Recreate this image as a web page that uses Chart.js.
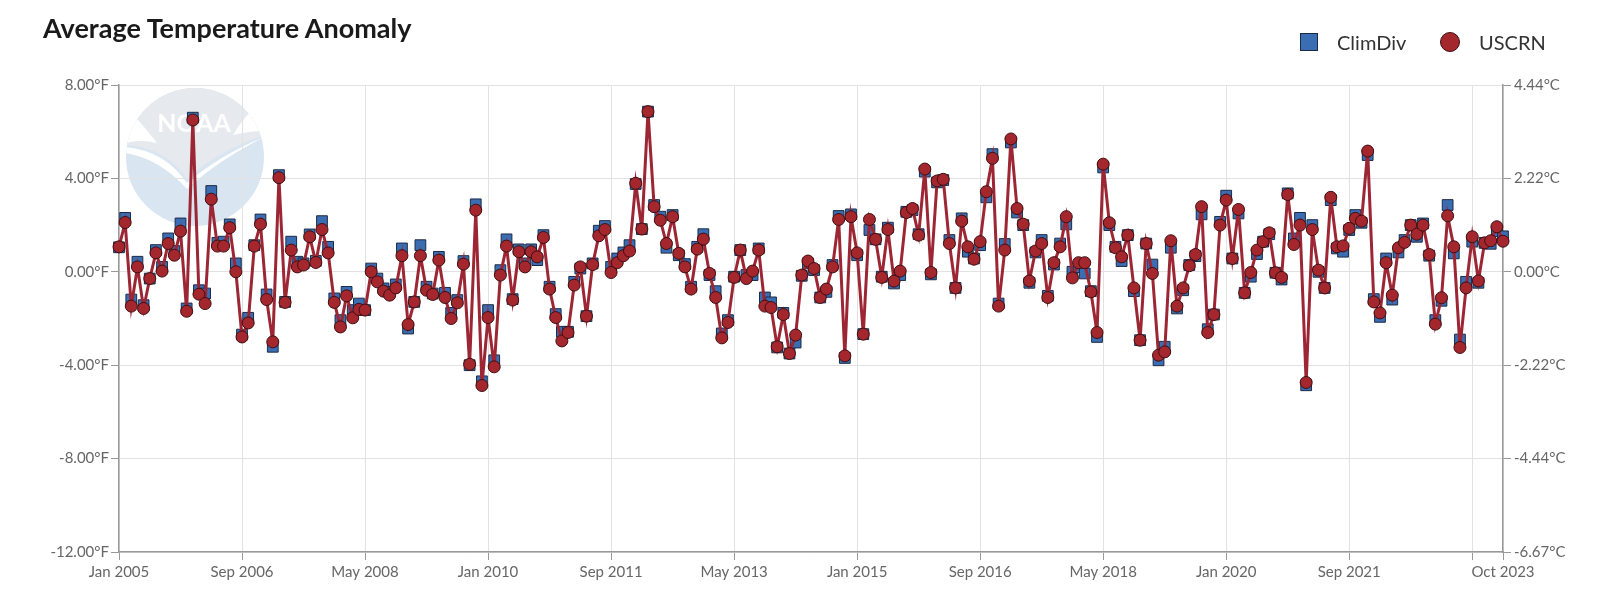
<!DOCTYPE html>
<html>
<head>
<meta charset="utf-8">
<script src="https://cdn.jsdelivr.net/npm/chart.js@4.4.0/dist/chart.umd.min.js"></script>
<style>
  body { margin: 0; background: #fff; }
  #wrap { position: relative; width: 1600px; height: 592px; overflow: hidden; }
  #title { position: absolute; left: 43px; top: 11px; font: bold 27px Lato, sans-serif; color: #1a1a1a; }
  #legend { position: absolute; top: 29px; left: 1300px; font: 20px Lato, sans-serif; color: #333; }
  .item { position: absolute; top: 0; white-space: nowrap; line-height: 26px; }
  .sq { position: absolute; top: 4px; width: 16px; height: 16px; background: #3b6db3; border: 1px solid #1c2b45; }
  .dot { position: absolute; top: 3px; width: 18px; height: 18px; border-radius: 50%; background: #a5272e; border: 1px solid #3d0e12; }
</style>
</head>
<body>
<div id="wrap">
  <canvas id="tempChart" width="1600" height="592"></canvas>
  <div id="title">Average Temperature Anomaly</div>
  <div id="legend">
    <div class="item" style="left:0"><span class="sq" style="left:0"></span><span style="margin-left:37px">ClimDiv</span></div>
    <div class="item" style="left:140px"><span class="dot" style="left:0"></span><span style="margin-left:39px">USCRN</span></div>
  </div>
</div>
<script>
// monthly anomalies, Jan 2005 .. Oct 2023 (deg F)
const monthNames = ['Jan','Feb','Mar','Apr','May','Jun','Jul','Aug','Sep','Oct','Nov','Dec'];
const startYear = 2005;
const monthCount = 226;
const categories = [];
for (let i = 0; i < monthCount; i++) {
    categories.push(monthNames[i % 12] + ' ' + (startYear + Math.floor(i / 12)));
}

const tickLabels = ['Jan 2005','Sep 2006','May 2008','Jan 2010','Sep 2011','May 2013',
    'Jan 2015','Sep 2016','May 2018','Jan 2020','Sep 2021','Oct 2023'];
const gridMonths = tickLabels.concat(['May 2023']);

const yTicksF = [-12, -8, -4, 0, 4, 8];

const uscrn = [
    1.07, 2.11, -1.47, 0.21, -1.57, -0.29, 0.81, 0.03, 1.21, 0.71, 1.74, -1.69,
    6.5, -0.96, -1.36, 3.11, 1.1, 1.1, 1.89, 0.0, -2.79, -2.19, 1.1, 2.04,
    -1.19, -3.0, 4.03, -1.31, 0.93, 0.21, 0.29, 1.5, 0.4, 1.81, 0.81, -1.31,
    -2.36, -1.03, -1.97, -1.61, -1.64, 0.0, -0.43, -0.83, -1.0, -0.69, 0.69, -2.26,
    -1.29, 0.69, -0.79, -0.97, 0.5, -1.1, -2.0, -1.33, 0.33, -3.96, 2.64, -4.87,
    -1.96, -4.07, -0.14, 1.1, -1.21, 0.86, 0.21, 0.86, 0.64, 1.47, -0.74, -1.96,
    -2.96, -2.6, -0.57, 0.21, -1.9, 0.31, 1.54, 1.81, -0.03, 0.39, 0.69, 0.89,
    3.79, 1.83, 6.86, 2.79, 2.21, 1.21, 2.36, 0.79, 0.21, -0.74, 0.97, 1.4,
    -0.07, -1.1, -2.83, -2.17, -0.24, 0.93, -0.29, 0.03, 0.93, -1.47, -1.53, -3.21,
    -1.83, -3.5, -2.71, -0.14, 0.46, 0.14, -1.1, -0.74, 0.21, 2.24, -3.6, 2.36,
    0.81, -2.67, 2.24, 1.39, -0.24, 1.81, -0.4, 0.03, 2.54, 2.71, 1.57, 4.4,
    -0.03, 3.89, 3.96, 1.21, -0.69, 2.17, 1.07, 0.54, 1.29, 3.43, 4.86, -1.47,
    0.93, 5.69, 2.71, 2.04, -0.39, 0.89, 1.21, -1.1, 0.39, 1.07, 2.36, -0.26,
    0.39, 0.39, -0.86, -2.6, 4.61, 2.1, 1.03, 0.64, 1.57, -0.69, -2.93, 1.21,
    -0.07, -3.57, -3.43, 1.33, -1.47, -0.69, 0.26, 0.74, 2.79, -2.6, -1.83, 2.0,
    3.07, 0.57, 2.67, -0.9, -0.03, 0.93, 1.29, 1.67, -0.04, -0.24, 3.31, 1.17,
    2.0, -4.74, 1.81, 0.07, -0.69, 3.19, 1.07, 1.11, 1.86, 2.29, 2.17, 5.17,
    -1.29, -1.76, 0.39, -1.0, 1.03, 1.26, 2.0, 1.61, 2.0, 0.74, -2.24, -1.11,
    2.4, 1.07, -3.24, -0.69, 1.5, -0.39, 1.24, 1.33, 1.93, 1.31
];

const climdiv = [
    1.05, 2.31, -1.19, 0.43, -1.43, -0.29, 0.93, 0.21, 1.43, 0.89, 2.07, -1.57,
    6.6, -0.79, -0.93, 3.46, 1.24, 1.29, 2.03, 0.36, -2.69, -1.97, 1.14, 2.24,
    -0.97, -3.21, 4.14, -1.29, 1.29, 0.43, 0.36, 1.6, 0.47, 2.17, 1.07, -1.14,
    -2.07, -0.86, -1.64, -1.36, -1.64, 0.14, -0.29, -0.71, -0.86, -0.54, 1.0, -2.43,
    -1.29, 1.14, -0.64, -0.93, 0.64, -0.9, -1.76, -1.21, 0.46, -4.0, 2.89, -4.69,
    -1.64, -3.79, 0.07, 1.39, -1.17, 0.96, 0.36, 0.96, 0.5, 1.57, -0.64, -1.81,
    -2.57, -2.57, -0.43, 0.14, -1.9, 0.36, 1.76, 1.96, 0.21, 0.57, 0.83, 1.14,
    3.76, 1.83, 6.86, 2.86, 2.36, 1.03, 2.43, 0.71, 0.33, -0.64, 1.07, 1.61,
    -0.14, -0.83, -2.64, -2.07, -0.21, 0.93, -0.14, -0.14, 1.0, -1.1, -1.31, -3.24,
    -1.76, -3.5, -3.03, -0.17, 0.36, 0.07, -1.1, -0.86, 0.29, 2.39, -3.69, 2.46,
    0.71, -2.67, 1.79, 1.39, -0.21, 1.89, -0.5, -0.14, 2.57, 2.64, 1.61, 4.29,
    -0.11, 3.83, 3.93, 1.36, -0.69, 2.29, 0.86, 0.57, 1.14, 3.19, 5.04, -1.36,
    1.19, 5.54, 2.54, 2.0, -0.47, 0.83, 1.36, -1.03, 0.31, 1.21, 2.03, 0.0,
    0.2, -0.07, -0.83, -2.79, 4.47, 2.0, 1.07, 0.46, 1.57, -0.83, -2.93, 1.21,
    0.31, -3.79, -3.21, 1.03, -1.57, -0.79, 0.29, 0.67, 2.46, -2.46, -1.83, 2.14,
    3.26, 0.57, 2.5, -0.9, -0.21, 0.76, 1.29, 1.61, -0.04, -0.33, 3.36, 1.43,
    2.31, -4.86, 2.0, 0.0, -0.69, 3.07, 1.0, 0.86, 1.79, 2.43, 2.1, 5.0,
    -1.17, -1.93, 0.57, -1.19, 0.83, 1.36, 2.0, 1.5, 2.07, 0.69, -2.07, -1.24,
    2.86, 0.79, -2.9, -0.43, 1.29, -0.47, 1.24, 1.2, 1.74, 1.52
];

// faint NOAA watermark behind the plot
const noaaLogo = {
    id: 'noaaLogo',
    beforeDraw(chart) {
        const ctx = chart.ctx;
        const cx = 195, cy = 157, r = 69;
        ctx.save();
        ctx.beginPath();
        ctx.arc(cx, cy, r, 0, Math.PI * 2);
        ctx.fillStyle = '#d9e6f2';
        ctx.fill();
        ctx.clip();
        // grey dome on top
        ctx.beginPath();
        ctx.moveTo(cx - r, cy - r);
        ctx.lineTo(cx + r, cy - r);
        ctx.lineTo(cx + r, cy - 22);
        ctx.quadraticCurveTo(cx + 20, cy - 5, cx - 8, cy + 22);
        ctx.quadraticCurveTo(cx - 30, cy - 10, cx - r, cy - 12);
        ctx.closePath();
        ctx.fillStyle = '#e6e9ed';
        ctx.fill();
        ctx.fillStyle = '#ffffff';
        // wing notches
        ctx.beginPath();
        ctx.moveTo(cx - r, cy - 50);
        ctx.quadraticCurveTo(cx - 50, cy - 30, cx - 38, cy - 14);
        ctx.quadraticCurveTo(cx - 55, cy - 18, cx - r, cy - 14);
        ctx.closePath();
        ctx.fill();
        ctx.beginPath();
        ctx.moveTo(cx + r, cy - 58);
        ctx.quadraticCurveTo(cx + 48, cy - 40, cx + 38, cy - 22);
        ctx.quadraticCurveTo(cx + 55, cy - 26, cx + r, cy - 26);
        ctx.closePath();
        ctx.fill();
        // white swoosh
        ctx.beginPath();
        ctx.moveTo(cx - r, cy - 10);
        ctx.quadraticCurveTo(cx - 30, cy - 6, cx - 8, cy + 26);
        ctx.quadraticCurveTo(cx + 25, cy - 2, cx + r, cy - 20);
        ctx.quadraticCurveTo(cx + 22, cy + 4, cx - 8, cy + 32);
        ctx.quadraticCurveTo(cx - 35, cy + 2, cx - r, cy - 4);
        ctx.closePath();
        ctx.fill();
        ctx.font = 'bold 25px Lato';
        ctx.textAlign = 'center';
        ctx.textBaseline = 'middle';
        ctx.fillText('NOAA', cx - 1, cy - 33);
        ctx.restore();
    }
};

const tickFont = { family: 'Lato', size: 15 };

new Chart(document.getElementById('tempChart').getContext('2d'), {
    type: 'line',
    data: {
        labels: categories,
        datasets: [{
            label: 'ClimDiv',
            data: climdiv,
            showLine: false,
            pointStyle: 'rect',
            pointRadius: 7.6,
            pointBackgroundColor: '#3b6db3',
            pointBorderColor: '#1c2b45',
            pointBorderWidth: 1,
            order: 2
        }, {
            label: 'USCRN',
            data: uscrn,
            borderColor: '#9c2634',
            borderWidth: 3,
            tension: 0,
            pointStyle: 'circle',
            pointRadius: 6,
            pointBackgroundColor: '#a5272e',
            pointBorderColor: '#3d0e12',
            pointBorderWidth: 1,
            order: 1
        }]
    },
    options: {
        responsive: false,
        animation: false,
        events: [],
        layout: { padding: { top: 85, left: 0, right: 0, bottom: 0 } },
        plugins: {
            legend: { display: false },
            title: { display: false },
            tooltip: { enabled: false }
        },
        scales: {
            x: {
                offset: false,
                afterFit: s => { s.height = 40; },
                border: { color: '#999', width: 1.5 },
                grid: {
                    color: c => gridMonths.includes(categories[c.index]) ? '#e2e2e2' : 'rgba(0,0,0,0)',
                    tickColor: c => gridMonths.includes(categories[c.index]) ? '#999' : 'rgba(0,0,0,0)',
                    tickLength: 8,
                    lineWidth: 1
                },
                ticks: {
                    autoSkip: false,
                    maxRotation: 0,
                    minRotation: 0,
                    padding: 3,
                    color: '#666',
                    font: tickFont,
                    callback: (v, i) => tickLabels.includes(categories[i]) ? categories[i] : ''
                }
            },
            y: {
                position: 'left',
                min: -12,
                max: 8,
                afterFit: s => { s.width = 119; },
                afterBuildTicks: s => { s.ticks = yTicksF.map(v => ({ value: v })); },
                border: { color: '#999', width: 1.5 },
                grid: { color: '#e2e2e2', tickColor: '#999', tickLength: 8 },
                ticks: {
                    padding: 2,
                    color: '#666',
                    font: tickFont,
                    callback: v => v.toFixed(2) + '°F'
                }
            },
            y1: {
                position: 'right',
                min: -12,
                max: 8,
                afterFit: s => { s.width = 97; },
                afterBuildTicks: s => { s.ticks = yTicksF.map(v => ({ value: v })); },
                border: { color: '#999', width: 1.5 },
                grid: { drawOnChartArea: false, tickColor: '#999', tickLength: 8 },
                ticks: {
                    padding: 3,
                    color: '#666',
                    font: tickFont,
                    callback: v => (v * 5 / 9).toFixed(2) + '°C'
                }
            }
        }
    },
    plugins: [noaaLogo]
});
</script>
</body>
</html>
